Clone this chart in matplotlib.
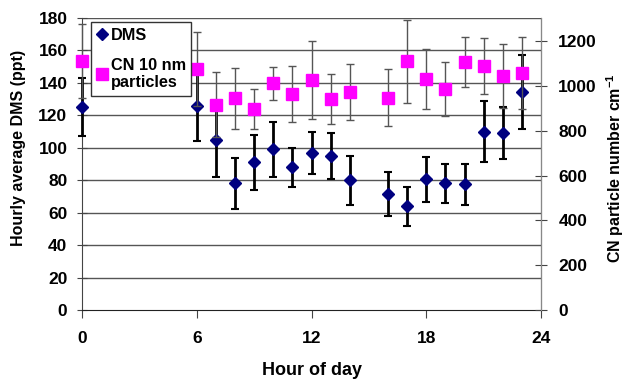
import matplotlib
matplotlib.use("Agg")
import matplotlib.pyplot as plt
from matplotlib.lines import Line2D

plt.rcParams['font.family'] = ['Liberation Sans', 'DejaVu Sans']
plt.rcParams['font.weight'] = 'bold'
plt.rcParams['mathtext.fontset'] = 'custom'
plt.rcParams['mathtext.rm'] = 'Liberation Sans:bold'
plt.rcParams['mathtext.default'] = 'rm'

hours = [0, 6, 7, 8, 9, 10, 11, 12, 13, 14, 16, 17, 18, 19, 20, 21, 22, 23]
dms = [125, 126, 105, 78, 91, 99, 88, 97, 95, 80, 71.5, 64, 80.5, 78, 77.5, 110, 109, 134.5]
dms_err = [18, 22, 23, 16, 17, 17, 12, 13, 14, 15, 13.5, 12, 14, 12, 12.5, 19, 16, 23]
cn = [1111, 1076, 916, 945, 897, 1012, 963, 1027, 940, 972, 948, 1110, 1030, 985, 1106, 1089, 1045, 1056]
cn_err = [167, 166, 146, 136, 90, 73, 124, 175, 111, 126, 126, 185, 133, 121, 113, 125, 144, 160]

x_ticks = [0, 6, 12, 18, 24]
left_ticks = list(range(0, 181, 20))
right_ticks = list(range(0, 1201, 200))

fig = plt.figure(figsize=(6.27, 3.79), dpi=100)
ax = fig.add_axes([82/627, 1-310/379, (541-82)/627, (310-18)/379])
ax2 = ax.twinx()

ax.set_xlim(0, 24)
ax.set_ylim(0, 180)
ax2.set_ylim(0, 1303)

ax.set_yticks(left_ticks)
ax.set_xticks(x_ticks)
ax2.set_yticks(right_ticks)
for y in left_ticks[1:]:
    ax.axhline(y, color='#555555', lw=1.0, zorder=0)

ax.errorbar(hours, dms, yerr=dms_err, fmt='D', color='#000080', ecolor='black',
            elinewidth=2, capsize=3, capthick=1.5, markersize=6, zorder=3, clip_on=False)
ax2.errorbar(hours, cn, yerr=cn_err, fmt='s', color='#FF00FF', ecolor='#555555',
             elinewidth=1, capsize=3, capthick=1, markersize=8, zorder=4, clip_on=False)

for a in (ax, ax2):
    a.spines['top'].set_visible(False)
ax.spines['left'].set_color('#444444')
ax.spines['bottom'].set_color('#222222')
ax2.spines['right'].set_color('#888888')
ax2.spines['left'].set_visible(False)
ax2.spines['bottom'].set_visible(False)

fs = 12.5
ax.tick_params(axis='y', direction='inout', length=7, color='#444444', labelsize=fs, pad=7)
ax.tick_params(axis='x', direction='out', length=6, color='#444444', labelsize=fs, pad=9)
ax2.tick_params(axis='y', direction='inout', length=9, color='#444444', labelsize=fs, pad=8)

for lab in ax.get_xticklabels() + ax.get_yticklabels() + ax2.get_yticklabels():
    lab.set_fontweight('bold')

xl = ax.set_xlabel('Hour of day', fontsize=13, fontweight='bold')
ax.xaxis.set_label_coords(0.5, -0.2055)
xl.set_va('center')
yl = ax.set_ylabel('Hourly average DMS (ppt)', fontsize=11.5, fontweight='bold')
ax.yaxis.set_label_coords(-0.139, 0.555)
yl.set_va('center'); yl.set_ha('center')
yl2 = ax2.set_ylabel('CN particle number cm$^{-1}$', fontsize=11.5, fontweight='bold')
ax2.yaxis.set_label_coords(1.161, 0.486)
yl2.set_va('center'); yl2.set_ha('center')

handles = [Line2D([], [], marker='D', color='#000080', linestyle='none', markersize=6),
           Line2D([], [], marker='s', color='#FF00FF', linestyle='none', markersize=8)]
leg = ax2.legend(handles, ['DMS', 'CN 10 nm\nparticles'], loc='upper left',
                 bbox_to_anchor=(0.02, 0.985), fancybox=False, framealpha=1,
                 edgecolor='#333333', prop={'weight': 'bold', 'size': 11.7},
                 handlelength=0.6, handletextpad=0.25, borderpad=0.35,
                 labelspacing=0.9, borderaxespad=0)
leg.get_frame().set_linewidth(1)
leg.set_zorder(10)

fig.savefig('out.png', dpi=100)
